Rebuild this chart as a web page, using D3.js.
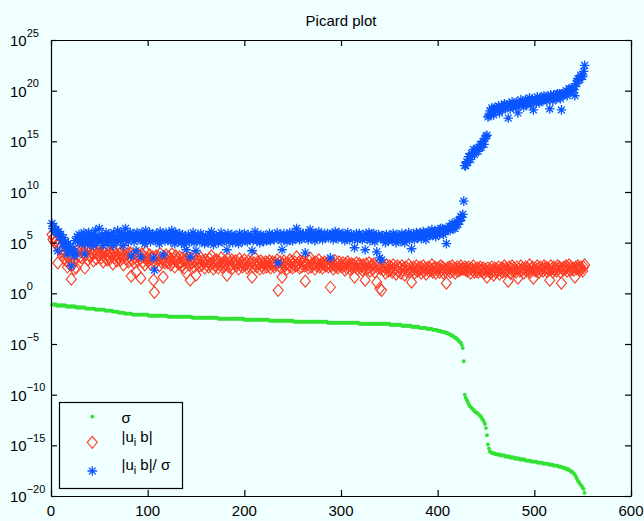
<!DOCTYPE html>
<html><head><meta charset="utf-8">
<script src="https://cdn.jsdelivr.net/npm/d3@7"></script>
<style>
html,body{margin:0;padding:0;background:#f0ffff;}
svg{display:block;}
text{font-family:"Liberation Sans",Arial,Helvetica,sans-serif;fill:#000;}
</style></head><body>
<svg id="chart" width="644" height="521"></svg>
<script>
const titleText = "Picard plot";
const xTicks = [0,100,200,300,400,500,600];
const yTickExps = [-20,-15,-10,-5,0,5,10,15,20,25];
const legendLabels = ["σ", "|u_i b|", "|u_i b|/ σ"];

// log10 of singular values sigma_i, i = 1..552
const sigmaExp = [
-1.1,-1.1,-1.1,-1.1,-1.1,-1.2,-1.2,-1.2,-1.2,-1.2,
-1.2,-1.2,-1.2,-1.2,-1.2,-1.3,-1.3,-1.3,-1.3,-1.3,
-1.3,-1.3,-1.3,-1.3,-1.3,-1.4,-1.4,-1.4,-1.4,-1.4,
-1.4,-1.4,-1.4,-1.4,-1.4,-1.5,-1.5,-1.5,-1.5,-1.5,
-1.5,-1.5,-1.5,-1.5,-1.5,-1.6,-1.6,-1.6,-1.6,-1.6,
-1.6,-1.6,-1.6,-1.6,-1.6,-1.7,-1.7,-1.7,-1.7,-1.7,
-1.7,-1.7,-1.7,-1.8,-1.8,-1.8,-1.8,-1.8,-1.8,-1.9,
-1.9,-1.9,-1.9,-1.9,-1.9,-2.0,-2.0,-2.0,-2.0,-2.0,
-2.0,-2.0,-2.0,-2.1,-2.1,-2.1,-2.1,-2.1,-2.1,-2.1,
-2.1,-2.1,-2.1,-2.1,-2.1,-2.1,-2.1,-2.1,-2.1,-2.1,
-2.2,-2.2,-2.2,-2.2,-2.2,-2.2,-2.2,-2.2,-2.2,-2.2,
-2.2,-2.2,-2.2,-2.2,-2.2,-2.2,-2.2,-2.2,-2.2,-2.2,
-2.3,-2.3,-2.3,-2.3,-2.3,-2.3,-2.3,-2.3,-2.3,-2.3,
-2.3,-2.3,-2.3,-2.3,-2.3,-2.3,-2.3,-2.3,-2.3,-2.3,
-2.3,-2.3,-2.3,-2.3,-2.3,-2.4,-2.4,-2.4,-2.4,-2.4,
-2.4,-2.4,-2.4,-2.4,-2.4,-2.4,-2.4,-2.4,-2.4,-2.4,
-2.4,-2.4,-2.4,-2.4,-2.4,-2.4,-2.4,-2.4,-2.4,-2.4,
-2.4,-2.4,-2.5,-2.5,-2.5,-2.5,-2.5,-2.5,-2.5,-2.5,
-2.5,-2.5,-2.5,-2.5,-2.5,-2.5,-2.5,-2.5,-2.5,-2.5,
-2.5,-2.5,-2.5,-2.5,-2.5,-2.5,-2.5,-2.5,-2.5,-2.6,
-2.6,-2.6,-2.6,-2.6,-2.6,-2.6,-2.6,-2.6,-2.6,-2.6,
-2.6,-2.6,-2.6,-2.6,-2.6,-2.6,-2.6,-2.6,-2.6,-2.6,
-2.6,-2.6,-2.6,-2.6,-2.6,-2.7,-2.7,-2.7,-2.7,-2.7,
-2.7,-2.7,-2.7,-2.7,-2.7,-2.7,-2.7,-2.7,-2.7,-2.7,
-2.7,-2.7,-2.7,-2.7,-2.7,-2.7,-2.7,-2.7,-2.7,-2.7,
-2.8,-2.8,-2.8,-2.8,-2.8,-2.8,-2.8,-2.8,-2.8,-2.8,
-2.8,-2.8,-2.8,-2.8,-2.8,-2.8,-2.8,-2.8,-2.8,-2.8,
-2.8,-2.8,-2.8,-2.8,-2.8,-2.8,-2.8,-2.8,-2.8,-2.8,
-2.8,-2.8,-2.8,-2.8,-2.8,-2.9,-2.9,-2.9,-2.9,-2.9,
-2.9,-2.9,-2.9,-2.9,-2.9,-2.9,-2.9,-2.9,-2.9,-2.9,
-2.9,-2.9,-2.9,-2.9,-2.9,-2.9,-2.9,-2.9,-2.9,-2.9,
-2.9,-2.9,-2.9,-2.9,-2.9,-2.9,-2.9,-2.9,-3.0,-3.0,
-3.0,-3.0,-3.0,-3.0,-3.0,-3.0,-3.0,-3.0,-3.0,-3.0,
-3.0,-3.0,-3.0,-3.0,-3.0,-3.0,-3.0,-3.0,-3.0,-3.0,
-3.0,-3.0,-3.0,-3.0,-3.0,-3.0,-3.0,-3.0,-3.0,-3.0,
-3.1,-3.1,-3.1,-3.1,-3.1,-3.1,-3.1,-3.1,-3.1,-3.1,
-3.1,-3.1,-3.2,-3.2,-3.2,-3.2,-3.2,-3.2,-3.2,-3.2,
-3.2,-3.2,-3.3,-3.3,-3.3,-3.3,-3.3,-3.3,-3.3,-3.3,
-3.4,-3.4,-3.4,-3.4,-3.4,-3.4,-3.4,-3.4,-3.5,-3.5,
-3.5,-3.5,-3.5,-3.5,-3.6,-3.6,-3.6,-3.6,-3.6,-3.7,
-3.7,-3.7,-3.7,-3.8,-3.8,-3.8,-3.8,-3.9,-3.9,-3.9,
-4.0,-4.0,-4.1,-4.1,-4.2,-4.2,-4.3,-4.4,-4.4,-4.5,
-4.6,-4.7,-4.8,-4.9,-5.1,-5.4,-6.7,-10.0,-10.3,-10.5,
-10.7,-10.9,-11.1,-11.2,-11.3,-11.4,-11.5,-11.6,-11.7,-11.8,
-11.8,-11.9,-12.0,-12.1,-12.2,-12.4,-12.5,-12.7,-12.9,-13.3,
-14.0,-14.9,-15.3,-15.6,-15.7,-15.7,-15.8,-15.8,-15.8,-15.9,
-15.9,-15.9,-15.9,-15.9,-16.0,-16.0,-16.0,-16.0,-16.0,-16.1,
-16.1,-16.1,-16.1,-16.1,-16.2,-16.2,-16.2,-16.2,-16.2,-16.3,
-16.3,-16.3,-16.3,-16.3,-16.4,-16.4,-16.4,-16.4,-16.4,-16.4,
-16.5,-16.5,-16.5,-16.5,-16.5,-16.5,-16.6,-16.6,-16.6,-16.6,
-16.6,-16.6,-16.7,-16.7,-16.7,-16.7,-16.7,-16.7,-16.8,-16.8,
-16.8,-16.8,-16.8,-16.8,-16.9,-16.9,-16.9,-16.9,-16.9,-17.0,
-17.0,-17.0,-17.0,-17.0,-17.1,-17.1,-17.1,-17.1,-17.2,-17.2,
-17.2,-17.3,-17.3,-17.3,-17.4,-17.4,-17.5,-17.6,-17.6,-17.7,
-17.8,-17.9,-18.1,-18.3,-18.5,-18.6,-18.8,-18.9,-19.0,-19.2,
-19.3,-19.7
];

// log10 |u_i' b|
const ubExp = [
5.8,5.3,5.5,5.0,5.2,4.8,3.0,4.9,4.4,4.6,
4.1,3.7,4.3,3.4,3.9,3.2,2.6,3.6,2.9,3.3,
1.4,2.8,3.1,2.4,3.9,2.5,4.2,3.8,4.4,3.6,
4.3,3.5,4.0,4.6,2.5,3.8,4.2,3.3,4.5,3.7,
3.6,4.4,3.9,3.2,4.1,4.6,3.4,4.0,3.7,4.8,
3.9,3.5,4.2,3.1,4.0,3.6,4.3,3.3,3.8,4.1,
3.4,4.0,3.7,2.9,4.2,3.5,3.8,3.2,4.4,3.6,
3.9,3.3,4.1,3.5,2.8,3.7,4.4,3.4,3.9,3.1,
3.6,4.0,1.7,3.3,3.8,3.0,3.5,2.1,3.9,3.2,
3.7,3.4,1.5,3.9,3.1,3.6,2.8,4.1,3.3,3.5,
3.2,3.8,2.9,3.4,3.6,1.3,0.1,3.0,3.7,3.3,
3.5,2.7,3.9,3.1,3.4,1.6,3.6,3.0,3.8,3.2,
3.0,3.6,3.3,2.8,3.9,3.1,3.4,2.6,3.7,3.2,
3.4,2.9,3.6,3.0,2.7,3.5,3.2,2.5,3.3,2.0,
3.1,3.5,2.8,1.3,3.3,3.0,3.6,2.6,3.2,1.8,
2.9,3.4,3.1,2.7,3.5,2.8,3.2,3.0,2.5,3.3,
2.8,3.1,2.6,3.4,2.9,3.7,3.0,2.4,3.2,2.7,
3.3,2.9,2.5,3.1,2.8,3.5,2.6,3.0,2.7,3.2,
2.9,1.8,3.4,2.6,3.0,2.8,3.3,2.5,3.1,2.9,
3.2,2.7,3.0,2.4,3.4,2.8,3.1,2.6,2.9,3.3,
2.8,3.0,2.5,3.2,2.7,2.9,3.1,1.6,2.6,3.0,
3.5,2.8,2.6,3.1,2.9,2.4,3.2,2.7,3.0,2.5,
2.9,3.1,2.6,3.0,2.7,3.2,2.5,2.9,3.1,2.8,
2.6,3.0,2.8,3.3,0.3,2.7,3.1,2.5,1.6,2.9,
3.2,2.7,2.9,2.4,3.0,2.8,3.3,2.6,3.1,2.5,
2.9,3.1,2.7,3.6,2.8,3.0,2.5,3.2,2.6,2.9,
3.1,2.7,1.2,3.0,2.8,2.5,3.2,3.5,2.6,2.9,
2.8,3.0,2.4,3.1,2.7,2.9,3.3,2.6,2.8,3.0,
2.5,2.9,3.1,2.7,2.8,3.0,2.6,2.9,0.6,2.7,
3.0,2.4,2.8,3.2,2.6,2.9,2.5,3.1,2.7,2.8,
2.6,3.0,2.7,2.3,2.9,2.5,3.1,2.8,2.4,2.7,
2.9,2.5,2.8,1.6,2.6,3.0,2.4,2.7,2.9,2.5,
2.7,2.3,2.8,2.5,1.3,2.9,2.4,2.6,3.0,2.2,
2.6,2.8,2.4,2.9,2.1,2.7,1.1,2.5,2.8,0.5,
2.4,0.3,2.7,2.3,2.6,2.0,2.8,2.5,2.2,2.7,
2.3,2.6,2.1,2.8,2.4,2.5,1.9,2.7,2.2,2.6,
2.4,2.0,2.7,2.3,2.5,1.8,2.6,2.2,2.4,2.8,
2.1,2.5,1.1,2.3,2.6,2.0,2.4,2.7,2.2,2.5,
2.3,2.6,2.0,2.4,2.7,2.2,2.5,1.9,2.4,2.6,
2.2,2.5,2.3,2.8,2.1,2.4,2.6,2.0,2.5,2.3,
2.5,2.1,2.7,2.3,2.6,2.0,2.4,2.2,1.0,2.5,
2.3,2.6,2.1,2.4,2.7,2.2,2.5,2.0,2.4,2.6,
2.2,2.5,2.3,2.7,2.4,2.4,2.4,2.6,2.3,2.5,
2.2,2.6,2.4,2.0,2.5,2.3,2.7,2.1,2.4,2.2,
2.5,2.1,2.4,2.6,2.2,2.3,2.5,2.0,2.4,2.2,
1.6,2.5,2.2,2.4,2.0,2.6,2.3,1.8,2.5,2.1,
2.4,2.2,2.6,1.9,2.3,2.5,2.1,2.4,2.7,2.2,
2.5,2.3,1.2,2.6,2.0,2.4,2.7,2.2,2.5,2.3,
2.1,2.6,1.5,2.4,2.2,2.7,2.3,2.5,2.0,2.4,
2.6,2.2,2.5,2.3,2.8,2.1,2.4,2.6,1.5,2.3,
2.5,2.2,2.7,2.4,2.1,2.6,2.3,2.5,2.2,2.7,
2.4,2.6,2.2,2.5,2.3,1.3,2.7,2.4,2.1,2.6,
2.3,2.5,2.2,2.7,2.4,2.6,2.1,1.0,2.5,2.3,
2.6,2.4,2.7,2.2,2.5,2.8,2.3,2.6,2.4,2.5,
2.3,1.6,2.6,2.4,2.7,2.5,2.3,2.6,2.4,2.2,
2.6,2.8
];

// log10 (|u_i' b| / sigma_i)
const ratioExp = [
6.9,6.4,6.6,6.1,6.3,6.0,4.2,6.1,5.6,5.8,
5.3,4.9,5.5,4.6,5.1,4.5,3.9,4.9,4.2,4.6,
2.7,4.1,4.4,3.7,5.2,3.9,5.6,5.2,5.8,5.0,
5.7,4.9,5.4,6.0,3.9,5.3,5.7,4.8,6.0,5.2,
5.1,5.9,5.4,4.7,5.6,6.2,5.0,5.6,5.3,6.4,
5.5,5.1,5.8,4.7,5.6,5.3,6.0,5.0,5.5,5.8,
5.1,5.7,5.4,4.7,6.0,5.3,5.6,5.0,6.2,5.5,
5.8,5.2,6.0,5.4,4.7,5.7,6.4,5.4,5.9,5.1,
5.6,6.0,3.7,5.4,5.9,5.1,5.6,4.2,6.0,5.3,
5.8,5.5,3.6,6.0,5.2,5.7,4.9,6.2,5.4,5.6,
5.4,6.0,5.1,5.6,5.8,3.5,2.3,5.2,5.9,5.5,
5.7,4.9,6.1,5.3,5.6,3.8,5.8,5.2,6.0,5.4,
5.3,5.9,5.6,5.1,6.2,5.4,5.7,4.9,6.0,5.5,
5.7,5.2,5.9,5.3,5.0,5.8,5.5,4.8,5.6,4.3,
5.4,5.8,5.1,3.6,5.6,5.4,6.0,5.0,5.6,4.2,
5.3,5.8,5.5,5.1,5.9,5.2,5.6,5.4,4.9,5.7,
5.2,5.5,5.0,5.8,5.3,6.1,5.4,4.8,5.6,5.1,
5.7,5.3,5.0,5.6,5.3,6.0,5.1,5.5,5.2,5.7,
5.4,4.3,5.9,5.1,5.5,5.3,5.8,5.0,5.6,5.4,
5.7,5.2,5.5,4.9,5.9,5.3,5.6,5.1,5.4,5.9,
5.4,5.6,5.1,5.8,5.3,5.5,5.7,4.2,5.2,5.6,
6.1,5.4,5.2,5.7,5.5,5.0,5.8,5.3,5.6,5.1,
5.5,5.7,5.2,5.6,5.3,5.9,5.2,5.6,5.8,5.5,
5.3,5.7,5.5,6.0,3.0,5.4,5.8,5.2,4.3,5.6,
5.9,5.4,5.6,5.1,5.7,5.5,6.0,5.3,5.8,5.2,
5.7,5.9,5.5,6.4,5.6,5.8,5.3,6.0,5.4,5.7,
5.9,5.5,4.0,5.8,5.6,5.3,6.0,6.3,5.4,5.7,
5.6,5.8,5.2,5.9,5.5,5.7,6.1,5.4,5.6,5.8,
5.3,5.7,5.9,5.5,5.6,5.9,5.5,5.8,3.5,5.6,
5.9,5.3,5.7,6.1,5.5,5.8,5.4,6.0,5.6,5.7,
5.5,5.9,5.6,5.2,5.8,5.4,6.0,5.7,5.3,5.6,
5.8,5.4,5.7,4.5,5.5,5.9,5.3,5.6,5.9,5.5,
5.7,5.3,5.8,5.5,4.3,5.9,5.4,5.6,6.0,5.2,
5.6,5.8,5.4,5.9,5.1,5.7,4.1,5.5,5.8,3.5,
5.4,3.3,5.7,5.3,5.6,5.0,5.8,5.5,5.2,5.7,
5.4,5.7,5.2,5.9,5.5,5.6,5.0,5.8,5.3,5.7,
5.5,5.1,5.9,5.5,5.7,5.0,5.8,5.4,5.6,6.0,
5.3,5.7,4.4,5.6,5.9,5.3,5.7,6.0,5.5,5.8,
5.7,6.0,5.4,5.8,6.1,5.6,5.9,5.3,5.9,6.1,
5.7,6.0,5.8,6.3,5.7,6.0,6.2,5.6,6.1,6.0,
6.2,5.8,6.4,6.1,6.4,5.8,6.2,6.1,4.9,6.4,
6.3,6.6,6.2,6.5,6.9,6.4,6.8,6.4,6.8,7.1,
6.8,7.2,7.1,7.6,7.5,7.8,9.1,12.6,12.6,13.0,
12.9,13.5,13.5,13.2,13.8,13.7,14.2,13.7,14.1,14.0,
14.3,14.0,14.4,14.7,14.4,14.7,15.0,14.7,15.3,15.5,
15.6,17.4,17.5,18.0,17.7,18.3,18.1,17.6,18.3,18.0,
18.3,18.1,18.5,17.8,18.3,18.5,18.1,18.4,18.7,18.3,
18.6,18.4,17.3,18.7,18.2,18.6,18.9,18.4,18.7,18.6,
18.4,18.9,17.8,18.7,18.6,19.1,18.7,18.9,18.4,18.8,
19.1,18.7,19.0,18.8,19.3,18.6,19.0,19.2,18.1,18.9,
19.1,18.8,19.4,19.1,18.8,19.3,19.0,19.2,19.0,19.5,
19.2,19.4,19.0,19.3,19.2,18.2,19.6,19.3,19.0,19.6,
19.3,19.5,19.2,19.7,19.5,19.7,19.2,18.1,19.7,19.5,
19.8,19.7,20.0,19.5,19.9,20.2,19.8,20.2,20.0,20.2,
20.1,19.5,20.7,20.7,21.2,21.1,21.1,21.5,21.4,21.4,
21.9,22.5
];

const W = 644, H = 521;
const M = {l: 51, r: 631, t: 40, b: 496};
const BG = "#f0ffff";
const GREEN = "#33e133", RED = "#ff3a22", BLUE = "#0a55ff";

const svg = d3.select("#chart");
svg.append("rect").attr("width", W).attr("height", H).attr("fill", BG);

const x = d3.scaleLinear().domain([0, 600]).range([M.l, M.r]);
const y = d3.scaleLog().domain([1e-20, 1e25]).range([M.b, M.t]);

const toPts = arr => arr.map((e, k) => ({i: k + 1, v: Math.pow(10, e)}));
const sigmaPts = toPts(sigmaExp), ubPts = toPts(ubExp), ratioPts = toPts(ratioExp);

const diamond = "M0,-6L5,0L0,6L-5,0Z";
const star = "M-4.8,0H4.8M0,-4.8V4.8M-3.4,-3.4L3.4,3.4M-3.4,3.4L3.4,-3.4";

const plot = svg.append("g");
plot.append("g").selectAll("circle").data(sigmaPts).join("circle")
  .attr("cx", d => x(d.i)).attr("cy", d => y(d.v)).attr("r", 1.9).attr("fill", GREEN);
plot.append("g").selectAll("path").data(ubPts).join("path")
  .attr("d", diamond).attr("transform", d => `translate(${x(d.i)},${y(d.v)})`)
  .attr("fill", "none").attr("stroke", RED).attr("stroke-width", 1.1);
plot.append("g").selectAll("path").data(ratioPts).join("path")
  .attr("d", star).attr("transform", d => `translate(${x(d.i)},${y(d.v)})`)
  .attr("fill", "none").attr("stroke", BLUE).attr("stroke-width", 1.3);

// axes (ticks pointing inward)
const yVals = yTickExps.map(e => Math.pow(10, e));
function styleAxis(g){ g.selectAll("path,line").attr("stroke", "#000").attr("stroke-width", 1.2); g.selectAll("text").remove(); }
svg.append("g").attr("transform", `translate(${M.l},0)`)
  .call(d3.axisLeft(y).tickValues(yVals).tickSize(-6).tickSizeOuter(0).tickFormat("")).call(styleAxis);
svg.append("g").attr("transform", `translate(${M.r},0)`)
  .call(d3.axisRight(y).tickValues(yVals).tickSize(-6).tickSizeOuter(0).tickFormat("")).call(styleAxis);
svg.append("g").attr("transform", `translate(0,${M.b})`)
  .call(d3.axisBottom(x).tickValues(xTicks).tickSize(-6).tickSizeOuter(0).tickFormat("")).call(styleAxis);
svg.append("g").attr("transform", `translate(0,${M.t})`)
  .call(d3.axisTop(x).tickValues(xTicks).tickSize(-6).tickSizeOuter(0).tickFormat("")).call(styleAxis);

// x tick labels
svg.append("g").selectAll("text").data(xTicks).join("text")
  .attr("x", d => x(d)).attr("y", 516).attr("text-anchor", "middle")
  .attr("font-size", 15).text(d => d);

// y tick labels 10^e
const yl = svg.append("g").selectAll("text").data(yTickExps).join("text")
  .attr("x", 10).attr("y", d => y(Math.pow(10, d)) + 6).attr("font-size", 15);
yl.append("tspan").text("10");
yl.append("tspan").attr("font-size", 11).attr("dy", -9.5)
  .text(d => d < 0 ? "\u2212" + Math.abs(d) : String(d));

// title
svg.append("text").attr("x", (M.l + M.r) / 2).attr("y", 26).attr("text-anchor", "middle")
  .attr("font-size", 15).text(titleText);

// legend
const lg = svg.append("g");
lg.append("rect").attr("x", 59.5).attr("y", 402.5).attr("width", 123).attr("height", 86)
  .attr("fill", BG).attr("stroke", "#000").attr("stroke-width", 1.2);
const mx = 92.3;
lg.append("circle").attr("cx", mx).attr("cy", 416.7).attr("r", 1.9).attr("fill", GREEN);
lg.append("path").attr("d", diamond).attr("transform", `translate(${mx},442.3)`)
  .attr("fill", "none").attr("stroke", RED).attr("stroke-width", 1.1);
lg.append("path").attr("d", star).attr("transform", `translate(${mx},471)`)
  .attr("fill", "none").attr("stroke", BLUE).attr("stroke-width", 1.3);

function legendText(label, yb){
  const t = lg.append("text").attr("x", 121.5).attr("y", yb).attr("font-size", 15);
  const m = label.match(/^(\|u)_i( b\|.*)$/);
  if (m) {
    t.append("tspan").text(m[1]);
    t.append("tspan").attr("font-size", 11).attr("dy", 4).text("i");
    t.append("tspan").attr("dy", -4).text(m[2]);
  } else {
    t.text(label);
  }
}
legendText(legendLabels[0], 423);
legendText(legendLabels[1], 442);
legendText(legendLabels[2], 470);
</script>
</body></html>
